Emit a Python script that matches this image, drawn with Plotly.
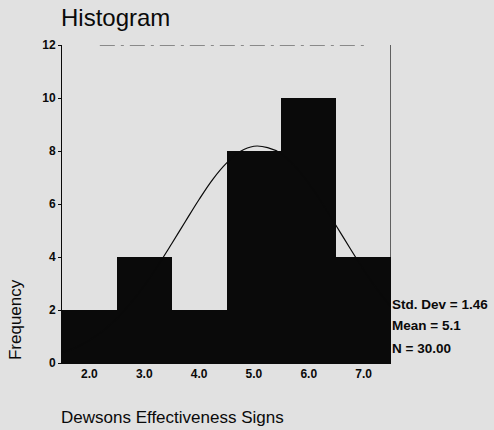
import plotly.graph_objects as go

# Data
bin_centers = [2.0, 3.0, 4.0, 5.0, 6.0, 7.0]
frequencies = [2, 4, 2, 8, 10, 4]
curve_x = [1.5, 1.75, 2.0, 2.25, 2.5, 2.75, 3.0, 3.25, 3.5, 3.75, 4.0, 4.25, 4.5, 4.75,
           5.0, 5.25, 5.5, 5.75, 6.0, 6.25, 6.5, 6.75, 7.0, 7.25, 7.5]
curve_y = [0.39, 0.58, 0.86, 1.22, 1.68, 2.25, 2.92, 3.68, 4.50, 5.34, 6.17, 6.93, 7.54,
           7.98, 8.18, 8.13, 7.90, 7.42, 6.78, 6.01, 5.18, 4.34, 3.52, 2.77, 2.12]
x_ticks = [2.0, 3.0, 4.0, 5.0, 6.0, 7.0]
x_tick_labels = ["2.0", "3.0", "4.0", "5.0", "6.0", "7.0"]
y_ticks = [0, 2, 4, 6, 8, 10, 12]
stats_lines = ["Std. Dev = 1.46", "Mean = 5.1", "N = 30.00"]
stats_pos = [2.19, 1.40, 0.53]

BG = "#e1e1e1"
INK = "#0a0a0a"
FONT = "Liberation Sans, Arial, sans-serif"

fig = go.Figure()
fig.add_trace(go.Bar(x=bin_centers, y=frequencies, width=1.0,
                     marker=dict(color=INK, line=dict(width=0)),
                     hoverinfo="skip", showlegend=False))
fig.add_trace(go.Scatter(x=curve_x, y=curve_y, mode="lines",
                         line=dict(color=INK, width=1.2, shape="spline"),
                         hoverinfo="skip", showlegend=False))

fig.update_layout(
    width=494, height=430,
    paper_bgcolor=BG, plot_bgcolor=BG,
    margin=dict(l=62, r=103, t=45, b=67),
    bargap=0,
    font=dict(family=FONT, color=INK),
    xaxis=dict(range=[1.5, 7.5], tickvals=x_ticks,
               ticktext=["<b>%s</b>" % t for t in x_tick_labels],
               showgrid=False, zeroline=False, showline=True, linecolor=INK,
               linewidth=1, ticks="", tickfont=dict(size=12, color=INK),
               fixedrange=True),
    yaxis=dict(range=[0, 12], tickvals=y_ticks,
               ticktext=["<b>%d</b>" % v for v in y_ticks],
               showgrid=False, zeroline=False,
               showline=True, linecolor=INK, linewidth=1, ticks="outside",
               ticklen=3, tickcolor=INK, tickfont=dict(size=12, color=INK),
               fixedrange=True),
)

# Right border and broken top border
fig.add_shape(type="line", xref="x", yref="y", x0=7.5, x1=7.5, y0=0, y1=12,
              line=dict(color=INK, width=1.2))
fig.add_shape(type="line", xref="x", yref="y", x0=2.19, x1=7.08, y0=12, y1=12,
              line=dict(color="#333333", width=1, dash="longdashdot"))

# Title
fig.add_annotation(text="Histogram", xref="paper", yref="paper", x=0, y=1,
                   xanchor="left", yanchor="bottom", yshift=12, xshift=-3,
                   showarrow=False, font=dict(size=24, color=INK, family=FONT))
# Axis titles
fig.add_annotation(text="Frequency", xref="paper", yref="paper", x=0, y=0.135,
                   xshift=-47, xanchor="center", yanchor="middle", textangle=-90,
                   showarrow=False, font=dict(size=17, color=INK, family=FONT))
fig.add_annotation(text="Dewsons Effectiveness Signs", xref="paper", yref="paper",
                   x=0, y=0, yshift=-54, xanchor="left", yanchor="middle", xshift=-3,
                   showarrow=False, font=dict(size=17, color=INK, family=FONT))
# Stats
for s, p in zip(stats_lines, stats_pos):
    fig.add_annotation(text="<b>%s</b>" % s, xref="paper", yref="y", x=1, xshift=-1,
                       y=p, xanchor="left", yanchor="middle",
                       showarrow=False, font=dict(size=13.5, color=INK, family=FONT))

fig.write_html("out.html", config={"displayModeBar": False},
               post_script="document.body.style.margin='0';")
